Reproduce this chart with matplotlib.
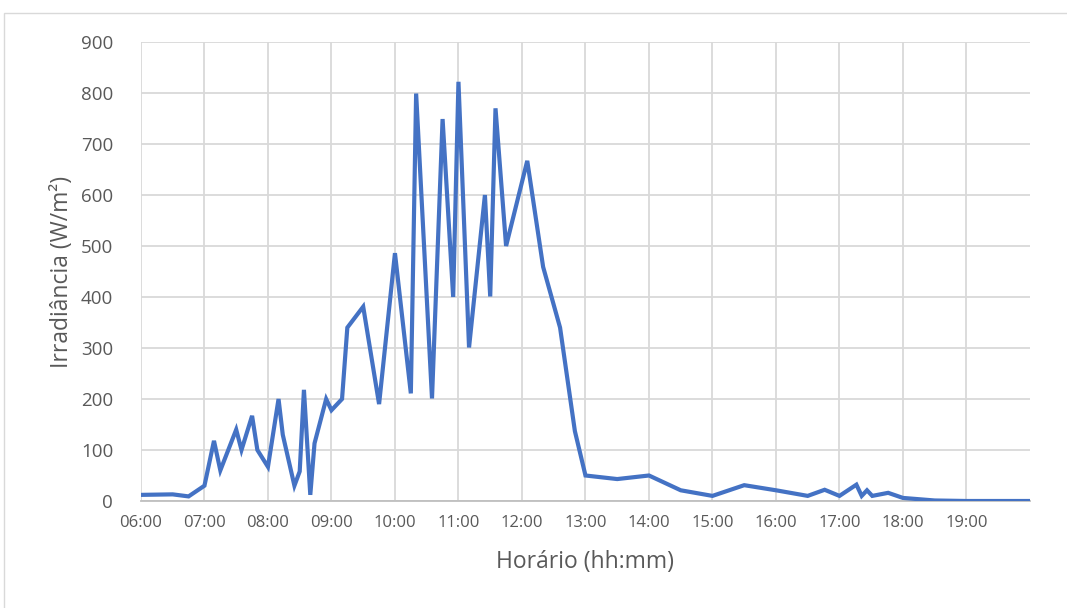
import matplotlib.pyplot as plt
from matplotlib.patches import Rectangle

# Irradiance readings over the day
times = ["06:00", "06:30", "06:45", "07:00", "07:09", "07:15", "07:30", "07:35",
         "07:45", "07:50", "08:00", "08:10", "08:14", "08:25", "08:30", "08:34",
         "08:40", "08:44", "08:55", "09:00", "09:10", "09:15", "09:30", "09:45",
         "10:00", "10:15", "10:20", "10:35", "10:45", "10:55", "11:00", "11:10",
         "11:25", "11:30", "11:35", "11:45", "12:05", "12:20", "12:36", "12:50",
         "13:00", "13:30", "14:00", "14:30", "15:00", "15:30", "16:00", "16:30",
         "16:46", "17:00", "17:16", "17:21", "17:26", "17:31", "17:46", "18:00",
         "18:30", "19:00", "19:30", "20:00"]
irradiance = [12, 13, 9, 30, 118, 60, 140, 100,
              167, 100, 67, 200, 130, 30, 58, 218,
              12, 113, 200, 178, 200, 340, 381, 190,
              486, 211, 799, 201, 749, 400, 822, 301,
              600, 401, 770, 500, 667, 459, 340, 137,
              50, 43, 50, 21, 10, 31, 21, 10,
              22, 10, 32, 10, 21, 10, 16, 6,
              1, 0, 0, 0]
tick_hours = list(range(6, 20))
tick_labels = ["%02d:00" % h for h in tick_hours]


def to_hours(t):
    h, m = t.split(":")
    return int(h) + int(m) / 60


hours = [to_hours(t) for t in times]

plt.rcParams['font.family'] = ['Open Sans', 'DejaVu Sans']
text_color = '#595959'

fig = plt.figure(figsize=(10.67, 6.08), dpi=100)
ax = fig.add_axes([0.1321, 0.176, 0.8332, 0.7549])

ax.plot(hours, irradiance, color='#4472C4', linewidth=3.0, solid_joinstyle='miter', zorder=3)

ax.set_xlim(6, 20)
ax.set_ylim(0, 900)
ax.set_xticks(tick_hours)
ax.set_xticklabels(tick_labels)
ax.set_yticks(range(0, 1000, 100))

ax.grid(True, color='#d9d9d9', linewidth=1.3)
for side in ['top', 'right', 'left']:
    ax.spines[side].set_visible(False)
ax.spines['bottom'].set_color('#bfbfbf')
ax.spines['bottom'].set_linewidth(1.3)
ax.tick_params(length=0, colors=text_color)
ax.tick_params(axis='y', labelsize=13.5, pad=20)
ax.tick_params(axis='x', labelsize=12, pad=10)

ax.set_xlabel('Horário (hh:mm)', fontsize=16.5, color=text_color, labelpad=14)
ax.set_ylabel('Irradiância (W/m²)', fontsize=16.5, color=text_color, labelpad=5)

# chart frame
fig.add_artist(Rectangle((4 / 1067, -0.05), 1.1, 1 - 13 / 608 + 0.05,
                         transform=fig.transFigure, fill=False,
                         edgecolor='#d9d9d9', linewidth=1))

plt.savefig("out.png", dpi=100)
plt.close()
